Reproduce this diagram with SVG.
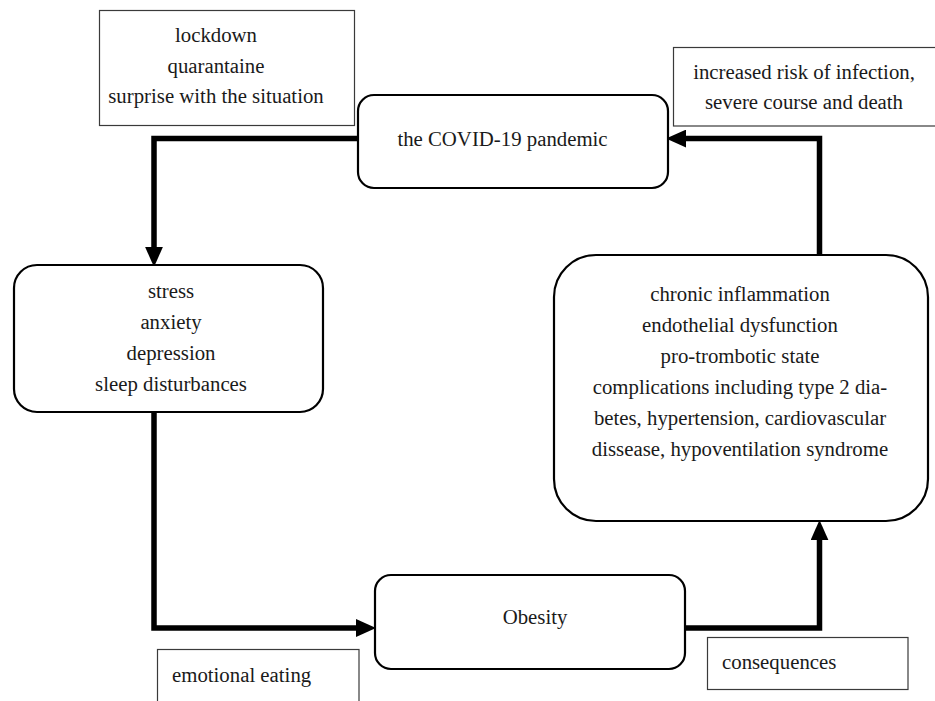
<svg xmlns="http://www.w3.org/2000/svg" width="935" height="701" viewBox="0 0 935 701">
<style>
  text { font-family: "Liberation Serif", "Times New Roman", serif; font-size: 20.8px; fill: #1a1a1a; }
  .c { text-anchor: middle; }
  .note { fill: #ffffff; stroke: #3a3a3a; stroke-width: 1.2; }
  .node { fill: #ffffff; stroke: #000000; stroke-width: 2.2; }
  .conn { fill: none; stroke: #000000; stroke-width: 5.5; stroke-linejoin: miter; }
</style>
<defs>
  <marker id="arr" markerUnits="userSpaceOnUse" markerWidth="20" markerHeight="18" refX="0" refY="8" orient="auto" viewBox="0 0 18 16">
    <path d="M0 0 L18 8 L0 16 Z" fill="#000"/>
  </marker>
</defs>
<rect width="935" height="701" fill="#ffffff"/>

<g id="connectors">
  <path class="conn" d="M358 138.5 H154 V247" marker-end="url(#arr)"/>
  <path class="conn" d="M154 412 V628 H356" marker-end="url(#arr)"/>
  <path class="conn" d="M685 628 H819.5 V540" marker-end="url(#arr)"/>
  <path class="conn" d="M819.5 255 V138.5 H686" marker-end="url(#arr)"/>
</g>

<g id="note-lockdown">
  <rect class="note" x="99.5" y="10.5" width="255" height="115"/>
  <text class="c" x="216" y="41.5">lockdown</text>
  <text class="c" x="216" y="72.5">quarantaine</text>
  <text class="c" x="216" y="103">surprise with the situation</text>
</g>

<g id="note-infection">
  <rect class="note" x="673.5" y="47.5" width="265" height="78.5"/>
  <text class="c" x="804" y="78.5">increased risk of infection,</text>
  <text class="c" x="804" y="108.5">severe course and death</text>
</g>

<g id="node-covid">
  <rect class="node" x="358" y="95" width="310" height="93" rx="16" ry="16"/>
  <text class="c" x="502.5" y="146">the COVID-19 pandemic</text>
</g>

<g id="node-stress">
  <rect class="node" x="14" y="265" width="309" height="147" rx="23" ry="23"/>
  <text class="c" x="171" y="298">stress</text>
  <text class="c" x="171" y="329">anxiety</text>
  <text class="c" x="171" y="360">depression</text>
  <text class="c" x="171" y="391">sleep disturbances</text>
</g>

<g id="node-chronic">
  <rect class="node" x="554" y="255" width="374" height="266" rx="42" ry="42"/>
  <text class="c" x="740" y="300.5">chronic inflammation</text>
  <text class="c" x="740" y="331.5">endothelial dysfunction</text>
  <text class="c" x="740" y="362.5">pro-trombotic state</text>
  <text class="c" x="740" y="393.5">complications including type 2 dia-</text>
  <text class="c" x="740" y="424.5">betes, hypertension, cardiovascular</text>
  <text class="c" x="740" y="455.5">dissease, hypoventilation syndrome</text>
</g>

<g id="node-obesity">
  <rect class="node" x="375" y="575" width="310" height="94" rx="16" ry="16"/>
  <text class="c" x="535" y="624">Obesity</text>
</g>

<g id="note-emotional">
  <rect class="note" x="157.5" y="649.5" width="201.5" height="60"/>
  <text x="172" y="681.5">emotional eating</text>
</g>

<g id="note-consequences">
  <rect class="note" x="707.5" y="637.5" width="200.5" height="52"/>
  <text x="722" y="668.5">consequences</text>
</g>
</svg>
